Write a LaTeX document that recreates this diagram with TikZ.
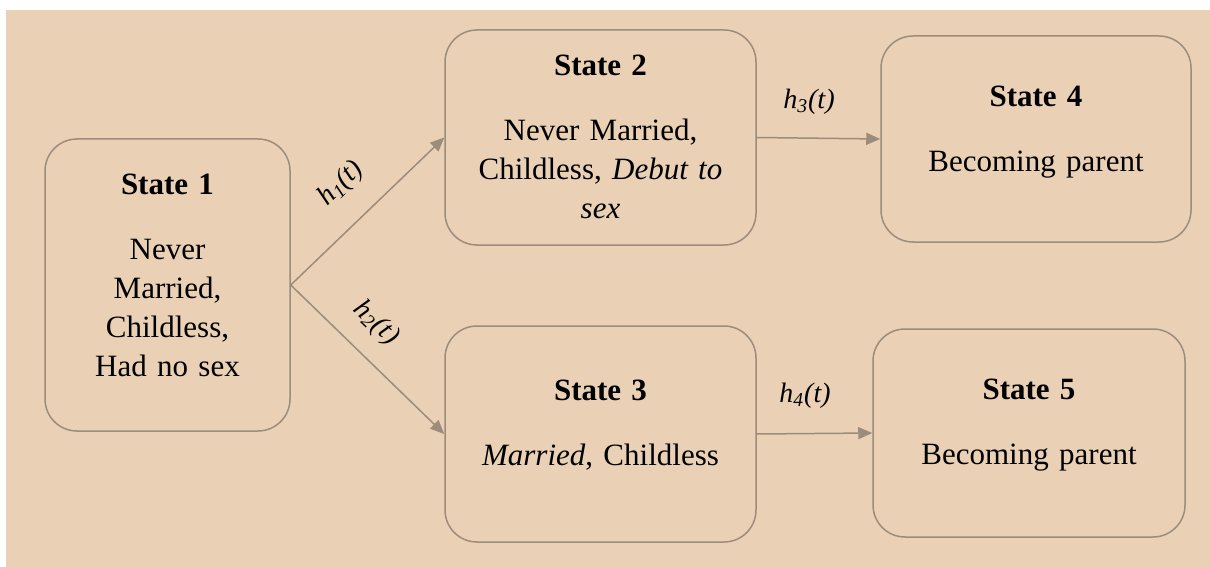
\documentclass[tikz,border=0pt]{standalone}
\usepackage{fontspec}
\setmainfont{Liberation Serif}
\usetikzlibrary{arrows.meta}

\definecolor{sand}{RGB}{234,209,181}
\definecolor{edgegray}{RGB}{155,140,124}

\begin{document}
\begin{tikzpicture}[x=0.5pt, y=-0.5pt, >={Triangle[length=7pt, width=6pt]},
    statebox/.style={draw=edgegray, line width=0.75pt, rounded corners=16pt,
      align=center, inner sep=0pt, font=\fontsize{15.5}{19.5}\selectfont},
    trans/.style={->, draw=edgegray, fill=edgegray, line width=0.75pt},
    rate/.style={font=\fontsize{14}{16}\selectfont\itshape, sloped}]

    \useasboundingbox (0,0) rectangle (1210,567);
    \fill[sand] (6,10) rectangle (1210,567);

    \node[statebox, minimum width=122.5pt, minimum height=146pt, text width=110pt] (s1) at (167.5,285)
      {\textbf{State 1}\\[13pt] Never\\ Married,\\ Childless,\\ Had no sex\par\kern10pt};
    \node[statebox, minimum width=155.5pt, minimum height=107.5pt, text width=140pt] (s2) at (600.5,137.5)
      {\textbf{State 2}\\[13pt] Never Married,\\ Childless, \textit{Debut to}\\ \textit{sex}\par\kern1pt};
    \node[statebox, minimum width=155.5pt, minimum height=108pt, text width=140pt] (s3) at (600.5,434)
      {\textbf{State 3}\\[13pt] \textit{Married}, Childless\par\kern9pt};
    \node[statebox, minimum width=155pt, minimum height=103pt, text width=140pt] (s4) at (1036,139)
      {\textbf{State 4}\\[13pt] Becoming parent\par\kern6.5pt};
    \node[statebox, minimum width=156pt, minimum height=104pt, text width=140pt] (s5) at (1029,433)
      {\textbf{State 5}\\[13pt] Becoming parent\par\kern8pt};

    \draw[trans] (s1.east) -- (s2.west) node[rate, pos=0.5, above=9pt] {h\textsubscript{1}(t)};
    \draw[trans] (s1.east) -- (s3.west) node[rate, pos=0.41, above=6pt] {h\textsubscript{2}(t)};
    \draw[trans] (s2.east) -- (s4.west) node[rate, pos=0.42, above=8pt] {h\textsubscript{3}(t)};
    \draw[trans] (s3.east) -- (s5.west) node[rate, pos=0.42, above=9pt] {h\textsubscript{4}(t)};
  \end{tikzpicture}
\end{document}
